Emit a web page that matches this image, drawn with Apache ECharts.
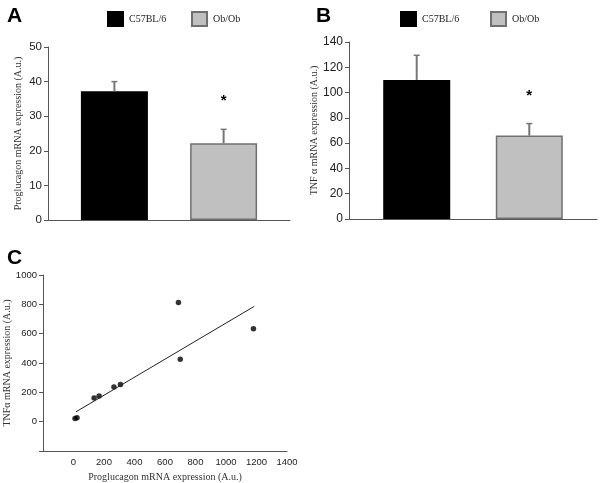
<!DOCTYPE html>
<html><head><meta charset="utf-8">
<script src="https://cdn.jsdelivr.net/npm/echarts@6/dist/echarts.min.js"></script>
<style>html,body{margin:0;padding:0;background:#fff}#c{width:600px;height:483px}</style>
</head><body><div id="c"></div>
<script>
// ---- data ----
const groups = ['C57BL/6', 'Ob/Ob'];
const proglucagonMean = [37.2, 22.2];
const proglucagonErr = [2.8, 4.0];
const tnfMean = [110, 66];
const tnfErr = [19.5, 9.5];
const significant = [false, true];
const ticksA = [0, 10, 20, 30, 40, 50];
const ticksB = [0, 20, 40, 60, 80, 100, 120, 140];
const ticksCx = [-200, 0, 200, 400, 600, 800, 1000, 1200, 1400];
const ticksCy = [-200, 0, 200, 400, 600, 800, 1000];
const scatterX = [10, 23, 135, 168, 265, 308, 688, 700, 1180];
const scatterY = [22, 27, 162, 175, 236, 254, 813, 425, 634];
const fitX = [16, 1185];
const fitY = [67, 786];

const chart = echarts.init(document.getElementById('c'));
const SANS = 'Liberation Sans, Arial, sans-serif';
const SERIF = 'Liberation Serif, Times New Roman, serif';
const colors = ['#000000', '#c0c0c0'];
const borders = ['#000000', '#707070'];
const BW = 67;

function yAxisCommon(name, ticks, gi, gap, fs) {
  return {
    type: 'value', gridIndex: gi, min: ticks[0], max: ticks[ticks.length - 1],
    interval: ticks[1] - ticks[0],
    name: name, nameLocation: 'middle', nameGap: gap,
    nameTextStyle: {fontFamily: SERIF, fontSize: 10, color: '#333'},
    axisLine: {show: true, onZero: false, lineStyle: {color: '#555', width: 1}},
    axisTick: {show: true, length: 4, lineStyle: {color: '#555'}},
    axisLabel: {fontFamily: SANS, fontSize: fs, color: '#222', margin: 6,
      formatter: v => v < 0 ? '' : String(v)},
    splitLine: {show: false}
  };
}
function xAxisBar(gi) {
  return {type: 'category', gridIndex: gi, data: ['g'],
    axisLine: {show: true, lineStyle: {color: '#555'}}, axisTick: {show: false},
    axisLabel: {show: false}, splitLine: {show: false}};
}
function barSeries(gi, means, gapPct) {
  return means.map((m, i) => ({
    type: 'bar', name: groups[i], xAxisIndex: gi, yAxisIndex: gi,
    data: [m], barWidth: BW, barGap: gapPct + '%',
    itemStyle: {color: colors[i], borderColor: borders[i], borderWidth: 1.5},
    emphasis: {disabled: true}, animation: false
  }));
}
function errSeries(gi, means, errs, gapPct) {
  const off = (BW + BW * gapPct / 100) / 2;
  return {
    type: 'custom', xAxisIndex: gi, yAxisIndex: gi, animation: false, z: 5,
    data: means.map((m, i) => [0, m, errs[i], i, significant[i] ? 1 : 0]),
    renderItem: function (params, api) {
      const m = api.value(1), e = api.value(2), g = api.value(3), s = api.value(4);
      const b = api.coord([0, m]);
      const t = api.coord([0, m + e]);
      const x = b[0] + (g === 0 ? -off : off);
      const ch = [
        {type: 'line', shape: {x1: x, y1: b[1], x2: x, y2: t[1]}, style: {stroke: '#777', lineWidth: 2}},
        {type: 'line', shape: {x1: x - 3, y1: t[1], x2: x + 3, y2: t[1]}, style: {stroke: '#777', lineWidth: 1.5}}
      ];
      if (s) ch.push({type: 'text', x: x, y: t[1] - 28, style: {text: '*', fontFamily: SANS, fontSize: 15, fontWeight: 'bold', fill: '#000', align: 'center', verticalAlign: 'middle'}});
      return {type: 'group', children: ch};
    }
  };
}
function legendItem(name, left) {
  return {show: true, data: [name], left: left, top: 11, icon: 'rect', itemWidth: 15, itemHeight: 14,
    itemGap: 0, selectedMode: false, padding: 0,
    textStyle: {fontFamily: SERIF, fontSize: 10, color: '#222', padding: [0, 0, 0, 1]}};
}

const option = {
  animation: false,
  backgroundColor: '#fff',
  title: [
    {text: 'A', left: 2, top: 1, textStyle: {fontFamily: SANS, fontSize: 21, fontWeight: 'bold', color: '#000'}},
    {text: 'B', left: 311, top: 1, textStyle: {fontFamily: SANS, fontSize: 21, fontWeight: 'bold', color: '#000'}},
    {text: 'C', left: 2, top: 243, textStyle: {fontFamily: SANS, fontSize: 21, fontWeight: 'bold', color: '#000'}}
  ],
  legend: [
    legendItem(groups[0], 107), legendItem(groups[1], 191),
    legendItem(groups[0], 400), legendItem(groups[1], 490)
  ],
  grid: [
    {left: 48, right: 310, top: 47, bottom: 263},
    {left: 349, right: 3, top: 42, bottom: 264},
    {left: 43, right: 313, top: 275, bottom: 31}
  ],
  xAxis: [
    xAxisBar(0), xAxisBar(1),
    {type: 'value', gridIndex: 2, min: ticksCx[0], max: ticksCx[ticksCx.length - 1], interval: ticksCx[1] - ticksCx[0],
      name: 'Proglucagon mRNA expression (A.u.)', nameLocation: 'middle', nameGap: 21,
      nameTextStyle: {fontFamily: SERIF, fontSize: 10, color: '#333'},
      axisLine: {show: true, onZero: false, lineStyle: {color: '#555'}}, axisTick: {show: false},
      axisLabel: {fontFamily: SANS, fontSize: 9.5, color: '#222', margin: 6,
        formatter: v => v < 0 ? '' : String(v)},
      splitLine: {show: false}}
  ],
  yAxis: [
    yAxisCommon('Proglucagon mRNA expression (A.u.)', ticksA, 0, 25, 11.5),
    yAxisCommon('TNF α mRNA expression (A.u.)', ticksB, 1, 27, 12),
    yAxisCommon('TNFα mRNA expression (A.u.)', ticksCy, 2, 30, 9.5)
  ],
  series: [
    ...barSeries(0, proglucagonMean, 63),
    errSeries(0, proglucagonMean, proglucagonErr, 63),
    ...barSeries(1, tnfMean, 68),
    errSeries(1, tnfMean, tnfErr, 68),
    {type: 'line', xAxisIndex: 2, yAxisIndex: 2, data: fitX.map((x, i) => [x, fitY[i]]),
      showSymbol: false, symbol: 'none', lineStyle: {color: '#222', width: 1}, silent: true},
    {type: 'scatter', xAxisIndex: 2, yAxisIndex: 2, data: scatterX.map((x, i) => [x, scatterY[i]]),
      symbolSize: 5.5, itemStyle: {color: '#000'}, silent: true}
  ]
};
chart.setOption(option);
</script></body></html>
